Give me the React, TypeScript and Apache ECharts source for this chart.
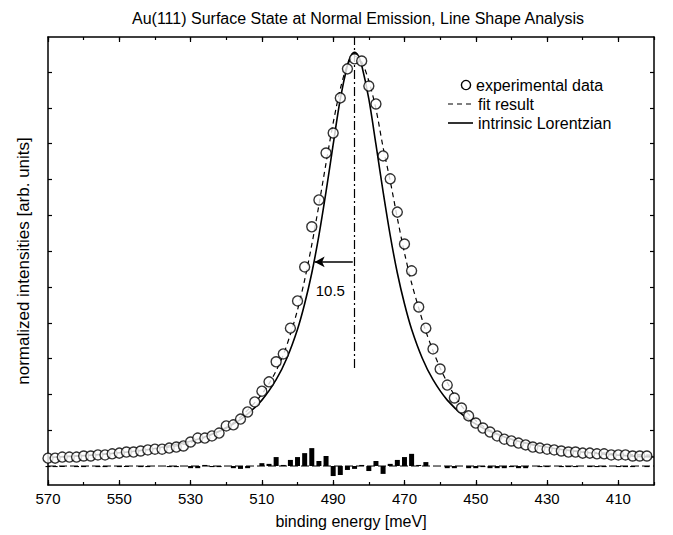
import React, { useEffect, useRef } from "react";
import * as echarts from "echarts";

// experimental data: binding energy [meV] and normalized intensity (arb. units)
const expE = [
  570, 568, 566, 564, 562, 560, 558, 556, 554, 552, 550, 548, 546, 544, 542, 540, 538, 536, 534, 532,
  530, 528, 526, 524, 522, 520, 518, 516, 514, 512, 510, 508, 506, 504, 502, 500, 498, 496, 494, 492,
  490, 488, 486, 484, 482, 480, 478, 476, 474, 472, 470, 468, 466, 464, 462, 460, 458, 456, 454, 452,
  450, 448, 446, 444, 442, 440, 438, 436, 434, 432, 430, 428, 426, 424, 422, 420, 418, 416, 414, 412,
  410, 408, 406, 404, 402,
];
const expI = [
  0.22, 0.22, 0.25, 0.25, 0.25, 0.28, 0.28, 0.31, 0.31, 0.34, 0.36, 0.39, 0.39, 0.42, 0.45, 0.47, 0.47, 0.5, 0.53, 0.56,
  0.67, 0.78, 0.78, 0.84, 0.92, 1.12, 1.15, 1.31, 1.51, 1.79, 2.09, 2.35, 2.91, 3.13, 3.85, 4.61, 5.56, 6.68, 7.43, 8.74,
  9.3, 10.28, 11.09, 11.37, 11.31, 10.61, 10.11, 8.66, 8.02, 7.09, 6.2, 5.45, 4.44, 3.85, 3.27, 2.71, 2.26, 1.9, 1.62, 1.4,
  1.2, 1.06, 0.95, 0.84, 0.75, 0.7, 0.64, 0.59, 0.53, 0.5, 0.47, 0.45, 0.42, 0.39, 0.39, 0.36, 0.36, 0.34, 0.34, 0.31,
  0.31, 0.31, 0.28, 0.28, 0.28,
];
// residuals (data - fit), same energies as expE
const resI = [
  -0.03, -0.03, -0.03, 0, -0.03, -0.03, 0, -0.03, -0.03, 0, -0.03, -0.03, 0, -0.03, -0.03, 0, 0, -0.03, -0.03, 0,
  -0.06, -0.06, 0.03, -0.03, -0.03, 0, -0.06, -0.08, -0.06, 0, 0.08, 0.06, 0.25, 0.03, 0.17, 0.25, 0.36, 0.5, 0.14, 0.28,
  -0.28, -0.25, -0.11, -0.08, 0.03, -0.14, 0.14, -0.22, 0.06, 0.17, 0.25, 0.34, 0.03, 0.11, 0, 0, -0.06, -0.06, 0, -0.06,
  -0.06, -0.03, -0.06, -0.06, -0.06, -0.03, -0.06, -0.06, 0, -0.03, -0.03, 0, -0.03, -0.03, -0.03, 0, -0.03, -0.03, -0.03, 0,
  -0.03, -0.03, -0.03, 0, -0.03,
];
// fit result (dashed)
const fitE = [
  570, 564, 558, 552, 546, 540, 536, 532, 530, 528, 526, 524, 522, 520, 518, 516, 514, 512, 510, 508,
  506, 504, 502, 500, 498, 496, 494, 492, 490, 488, 486, 484, 482, 480, 478, 476, 474, 472, 470, 468,
  466, 464, 462, 460, 458, 456, 454, 452, 450, 448, 446, 444, 442, 440, 436, 432, 428, 424, 418, 412,
  406, 400,
];
const fitI = [
  0.25, 0.27, 0.3, 0.35, 0.41, 0.48, 0.53, 0.6, 0.66, 0.73, 0.8, 0.88, 0.97, 1.08, 1.21, 1.37, 1.56, 1.77, 2.01, 2.3,
  2.66, 3.1, 3.68, 4.36, 5.2, 6.18, 7.29, 8.46, 9.58, 10.53, 11.2, 11.45, 11.28, 10.75, 9.97, 8.9, 7.96, 6.92, 5.95, 5.11,
  4.41, 3.76, 3.22, 2.74, 2.33, 1.98, 1.68, 1.45, 1.27, 1.12, 1.0, 0.9, 0.81, 0.74, 0.63, 0.55, 0.49, 0.44, 0.39, 0.35,
  0.32, 0.3,
];
// intrinsic Lorentzian (solid)
const lorE = [
  570, 560, 550, 540, 530, 525, 520, 515, 510, 506, 503, 500, 498, 496, 494, 492, 490, 488, 486, 485,
  484, 483, 482, 480, 478, 476, 474, 472, 470, 468, 465, 462, 458, 453, 448, 443, 438, 428, 418, 408, 400,
];
const lorI = [
  0.24, 0.29, 0.37, 0.49, 0.69, 0.85, 1.06, 1.37, 1.84, 2.41, 3.01, 3.82, 4.53, 5.39, 6.44, 7.66, 8.98, 10.25, 11.19, 11.46,
  11.55, 11.46, 11.19, 10.25, 8.98, 7.66, 6.44, 5.39, 4.53, 3.82, 3.01, 2.41, 1.84, 1.37, 1.06, 0.85, 0.69, 0.49, 0.37, 0.29, 0.25,
];

const xMajorTicks = [410, 430, 450, 470, 490, 510, 530, 550, 570];
const yTicks = [1, 2, 3, 4, 5, 6, 7, 8, 9, 10, 11];
const peakE = 484;
const peakLineBottom = 2.74;
const halfMax = 5.7;
const hwhmEnd = 495.2;
const hwhmLabel = "10.5";
const hwhmLabelPos = [490.8, 4.89];

const FONT = "'Liberation Sans', Arial, Helvetica, sans-serif";
const X_MIN = 400;
const X_MAX = 570;
const Y_MIN = -0.53;
const Y_MAX = 11.98;

export default function App() {
  const ref = useRef<HTMLDivElement>(null);

  useEffect(() => {
    const chart = echarts.init(ref.current as HTMLDivElement, null, { renderer: "svg" });
    const black = "#000";

    const xBase = (position: "top" | "bottom") => ({
      type: "value" as const,
      position,
      min: X_MIN,
      max: X_MAX,
      inverse: true,
      splitLine: { show: false },
    });

    const xAxes = [
      {
        ...xBase("bottom"),
        interval: 10,
        axisLine: { show: true, onZero: false, lineStyle: { color: black, width: 1.5 } },
        axisTick: { show: true, inside: true, length: 3, lineStyle: { color: black, width: 1.2 } },
        axisLabel: { show: false },
        name: "binding energy [meV]",
        nameLocation: "middle",
        nameGap: 28,
        nameTextStyle: { color: black, fontSize: 16, fontFamily: FONT },
      },
      {
        ...xBase("bottom"),
        axisLine: { show: false, onZero: false },
        axisTick: {
          show: true,
          inside: true,
          length: 5,
          customValues: xMajorTicks,
          lineStyle: { color: black, width: 1.2 },
        },
        axisLabel: {
          show: true,
          customValues: xMajorTicks,
          margin: 6,
          color: black,
          fontSize: 15,
          fontFamily: FONT,
        },
      },
      {
        ...xBase("top"),
        interval: 10,
        axisLine: { show: true, onZero: false, lineStyle: { color: black, width: 1.5 } },
        axisTick: { show: true, inside: true, length: 3, lineStyle: { color: black, width: 1.2 } },
        axisLabel: { show: false },
      },
      {
        ...xBase("top"),
        axisLine: { show: false, onZero: false },
        axisTick: {
          show: true,
          inside: true,
          length: 5,
          customValues: xMajorTicks,
          lineStyle: { color: black, width: 1.2 },
        },
        axisLabel: { show: false },
      },
    ];

    const yBase = (position: "left" | "right") => ({
      type: "value" as const,
      position,
      min: Y_MIN,
      max: Y_MAX,
      splitLine: { show: false },
      axisLine: { show: true, onZero: false, lineStyle: { color: black, width: 1.5 } },
      axisTick: {
        show: true,
        inside: true,
        length: 4,
        customValues: yTicks,
        lineStyle: { color: black, width: 1.2 },
      },
      axisLabel: { show: false, customValues: yTicks },
    });

    const yAxes = [
      {
        ...yBase("left"),
        name: "normalized intensities [arb. units]",
        nameLocation: "middle",
        nameGap: 16,
        nameTextStyle: { color: black, fontSize: 17, fontFamily: FONT },
      },
      yBase("right"),
    ];

    const option = {
      animation: false,
      backgroundColor: "#fff",
      title: {
        text: "Au(111) Surface State at Normal Emission, Line Shape Analysis",
        left: 127,
        top: 5,
        textStyle: { color: black, fontSize: 16, fontWeight: "normal", fontFamily: FONT },
      },
      grid: { left: 48, right: 19, top: 37, bottom: 50, containLabel: false },
      xAxis: xAxes,
      yAxis: yAxes,
      series: [
        {
          name: "residual zero",
          type: "line",
          xAxisIndex: 0,
          yAxisIndex: 0,
          data: [
            [X_MAX, 0],
            [X_MIN, 0],
          ],
          symbol: "none",
          silent: true,
          lineStyle: { color: black, width: 1, type: [8, 3] },
          z: 2,
        },
        {
          name: "residuals",
          type: "bar",
          xAxisIndex: 0,
          yAxisIndex: 0,
          barWidth: 5,
          data: expE.map((e, i) => [e, resI[i]]),
          itemStyle: { color: black },
          silent: true,
          z: 3,
        },
        {
          name: "fit result",
          type: "line",
          xAxisIndex: 0,
          yAxisIndex: 0,
          data: fitE.map((e, i) => [e, fitI[i]]),
          symbol: "none",
          smooth: 0.3,
          lineStyle: { color: black, width: 1.2, type: [5, 4] },
          z: 3,
          markLine: {
            silent: true,
            symbol: ["none", "none"],
            label: { show: false },
            lineStyle: { color: black, width: 1.2, type: [9, 3, 2, 3] },
            data: [
              [
                { coord: [peakE, peakLineBottom] },
                { coord: [peakE, Y_MAX] },
              ],
            ],
          },
        },
        {
          name: "intrinsic Lorentzian",
          type: "line",
          xAxisIndex: 0,
          yAxisIndex: 0,
          data: lorE.map((e, i) => [e, lorI[i]]),
          symbol: "none",
          smooth: 0.3,
          lineStyle: { color: black, width: 1.6, type: "solid" },
          z: 4,
          markLine: {
            silent: true,
            symbol: ["none", "arrow"],
            symbolSize: [8, 10],
            label: { show: false },
            lineStyle: { color: black, width: 1.6, type: "solid" },
            data: [
              [
                { coord: [peakE + 0.5, halfMax] },
                { coord: [hwhmEnd, halfMax] },
              ],
            ],
          },
          markPoint: {
            silent: true,
            symbol: "circle",
            symbolSize: 1,
            itemStyle: { color: "rgba(0,0,0,0)" },
            label: {
              show: true,
              position: "inside",
              formatter: hwhmLabel,
              color: black,
              fontSize: 15,
              fontFamily: FONT,
            },
            data: [{ coord: hwhmLabelPos }],
          },
        },
        {
          name: "experimental data",
          type: "scatter",
          xAxisIndex: 0,
          yAxisIndex: 0,
          data: expE.map((e, i) => [e, expI[i]]),
          symbol: "circle",
          symbolSize: 10,
          itemStyle: { color: "#fff", borderColor: black, borderWidth: 1.4 },
          silent: true,
          z: 6,
        },
      ],
      graphic: [
        {
          type: "circle",
          shape: { cx: 466, cy: 85, r: 4.6 },
          style: { fill: "#fff", stroke: black, lineWidth: 1.4 },
        },
        {
          type: "text",
          x: 476,
          y: 85,
          style: { text: "experimental data", fill: black, font: `16px ${FONT}`, verticalAlign: "middle" },
        },
        {
          type: "line",
          shape: { x1: 448, y1: 104, x2: 472, y2: 104 },
          style: { stroke: black, lineWidth: 1.2, lineDash: [5, 4] },
        },
        {
          type: "text",
          x: 478,
          y: 104,
          style: { text: "fit result", fill: black, font: `16px ${FONT}`, verticalAlign: "middle" },
        },
        {
          type: "line",
          shape: { x1: 448, y1: 123, x2: 473, y2: 123 },
          style: { stroke: black, lineWidth: 1.6 },
        },
        {
          type: "text",
          x: 478,
          y: 123,
          style: { text: "intrinsic Lorentzian", fill: black, font: `16px ${FONT}`, verticalAlign: "middle" },
        },
      ],
    };

    chart.setOption(option as any);
    return () => chart.dispose();
  }, []);

  return (
    <div
      ref={ref}
      style={{ position: "absolute", left: 0, top: 0, width: 673, height: 535, background: "#fff" }}
    />
  );
}
